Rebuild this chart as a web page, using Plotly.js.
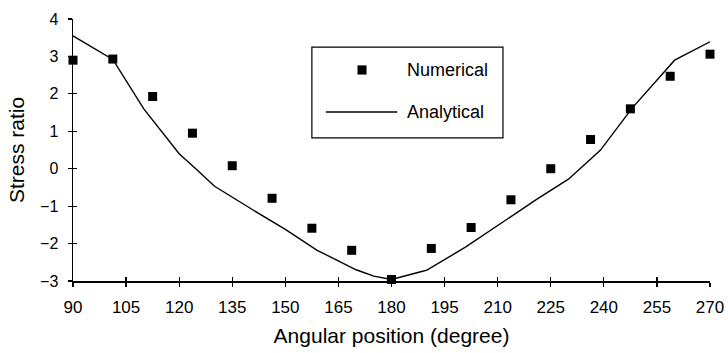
<!DOCTYPE html>
<html>
<head>
<meta charset="utf-8">
<script src="https://cdn.plot.ly/plotly-3.0.1.min.js"></script>
<style>html,body{margin:0;padding:0;background:#fff}#chart{width:728px;height:353px}</style>
</head>
<body>
<div id="chart"></div>
<script>
// Numerical results (squares)
const numAngle = [90, 101.25, 112.5, 123.75, 135, 146.25, 157.5, 168.75, 180, 191.25, 202.5, 213.75, 225, 236.25, 247.5, 258.75, 270];
const numStress = [2.90, 2.93, 1.93, 0.95, 0.08, -0.79, -1.59, -2.18, -2.96, -2.13, -1.57, -0.83, 0.00, 0.78, 1.60, 2.47, 3.06];
// Analytical curve (line)
const anaAngle = [90, 101.25, 110, 120, 125, 130, 141, 150, 159, 165, 170, 175, 180, 188, 190, 201, 212, 221, 230, 239, 248, 253, 258.75, 260, 270];
const anaStress = [3.55, 2.92, 1.60, 0.40, -0.03, -0.47, -1.11, -1.62, -2.18, -2.47, -2.70, -2.87, -2.96, -2.76, -2.71, -2.09, -1.38, -0.82, -0.28, 0.49, 1.62, 2.15, 2.78, 2.90, 3.39];
const xTicks = [90, 105, 120, 135, 150, 165, 180, 195, 210, 225, 240, 255, 270];
const yTicks = [-3, -2, -1, 0, 1, 2, 3, 4];
const seriesNames = ["Numerical", "Analytical"];

const fontFam = "Liberation Sans, Arial, sans-serif";

const traces = [
  {x: anaAngle, y: anaStress, mode: "lines", name: seriesNames[1],
   line: {color: "#000", width: 1.4}, showlegend: false, cliponaxis: false},
  {x: numAngle, y: numStress, mode: "markers", name: seriesNames[0],
   marker: {symbol: "square", size: 9, color: "#000"}, showlegend: false, cliponaxis: false},
  // invisible trace on the overlay axes so their inside tick marks are drawn
  {x: [numAngle[0]], y: [null], xaxis: "x2", yaxis: "y2", mode: "markers",
   marker: {opacity: 0}, showlegend: false, hoverinfo: "skip"}
];

const axBase = {showgrid: false, zeroline: false, showline: true, linecolor: "#000", linewidth: 1.5,
  ticks: "outside", ticklen: 4, tickwidth: 1.2, tickcolor: "#000"};

const layout = {
  width: 728, height: 353,
  margin: {l: 73, r: 18, t: 19, b: 72},
  paper_bgcolor: "#fff", plot_bgcolor: "#fff",
  font: {family: fontFam, color: "#000"},
  xaxis: Object.assign({}, axBase, {range: [90, 270], tickmode: "array", tickvals: xTicks,
    tickfont: {size: 17, family: fontFam}, ticklabelstandoff: 6,
    title: {text: "Angular position (degree)", font: {size: 21, family: fontFam}, standoff: 12}}),
  yaxis: Object.assign({}, axBase, {range: [-3, 4], tickmode: "array", tickvals: yTicks,
    tickfont: {size: 16, family: fontFam}, ticklabelstandoff: 6,
    title: {text: "Stress ratio", font: {size: 21, family: fontFam}, standoff: 9}}),
  xaxis2: {overlaying: "x", anchor: "y2", side: "bottom", showgrid: false, zeroline: false,
    showline: false, ticks: "inside", ticklen: 4, tickwidth: 1.2, tickcolor: "#000",
    tickmode: "array", tickvals: xTicks, showticklabels: false, range: [90, 270]},
  yaxis2: {overlaying: "y", anchor: "x2", side: "left", showgrid: false, zeroline: false,
    showline: false, ticks: "inside", ticklen: 4, tickwidth: 1.2, tickcolor: "#000",
    tickmode: "array", tickvals: yTicks, showticklabels: false, range: [-3, 4]},
  shapes: [
    // legend box
    {type: "rect", xref: "paper", yref: "paper", x0: 0.375, x1: 0.675, y0: 0.546, y1: 0.893,
     line: {color: "#000", width: 1.2}, fillcolor: "rgba(0,0,0,0)"},
    // legend line sample
    {type: "line", xref: "paper", yref: "paper", x0: 0.397, x1: 0.509, y0: 0.645, y1: 0.645,
     line: {color: "#000", width: 1.4}},
    // legend square sample
    {type: "rect", xref: "paper", yref: "paper", x0: 0.4466, x1: 0.4608, y0: 0.788, y1: 0.823,
     line: {width: 0}, fillcolor: "#000"}
  ],
  annotations: [
    {xref: "paper", yref: "paper", x: 0.521, y: 0.805, text: seriesNames[0], showarrow: false,
     xanchor: "left", yanchor: "middle", font: {size: 18, family: fontFam}},
    {xref: "paper", yref: "paper", x: 0.521, y: 0.645, text: seriesNames[1], showarrow: false,
     xanchor: "left", yanchor: "middle", font: {size: 18, family: fontFam}}
  ]
};

Plotly.newPlot("chart", traces, layout, {displayModeBar: false, staticPlot: true});
</script>
</body>
</html>
